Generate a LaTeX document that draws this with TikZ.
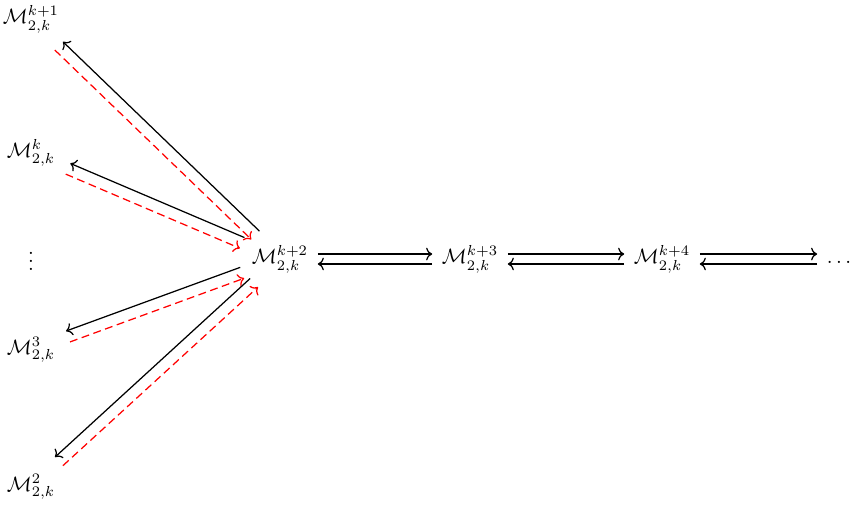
\documentclass[tikz,border=0pt]{standalone}
\usepackage{amsmath}
\usepackage{amssymb}
\usepackage{tikz}
\usetikzlibrary{arrows.meta}
\newcommand{\Mset}[1]{\mathcal{M}_{2,k}^{#1}}
\tikzset{
  obj/.style={inner sep=4.5pt},
  side/.style={inner sep=6pt},
  fwd/.style={->, semithick},
  back/.style={->, semithick, red, dash pattern=on 3.8pt off 2.2pt},
}

\begin{document}
\begin{tikzpicture}[x=0.01695cm, y=-0.01695cm]
  \useasboundingbox (0,0) rectangle (853,510);

  % left column
  \node[side] (k1) at (31,19) {$\Mset{k+1}$};
  \node[side] (k0) at (31,153) {$\Mset{k}$};
  \node[side] (vd) at (31,255) {$\vdots$};
  \node[side] (m3) at (31,350) {$\Mset{3}$};
  \node[side] (m2) at (31,487) {$\Mset{2}$};

  % chain to the right
  \node[obj] (c)  at (280,259) {$\Mset{k+2}$};
  \node[obj] (c3) at (470,259) {$\Mset{k+3}$};
  \node[obj] (c4) at (662,259) {$\Mset{k+4}$};
  \node[obj, text height=6pt, text depth=1.2pt] (dots) at (839,259) {$\ldots$};

  % fan to the left column
  \draw[fwd, transform canvas={shift={(1.95pt,2.01pt)}}] (c) -- (k1);
  \draw[back, transform canvas={shift={(-1.95pt,-2.01pt)}}] (k1) -- (c);
  \draw[fwd, transform canvas={shift={(1.10pt,2.58pt)}}] (c) -- (k0);
  \draw[back, transform canvas={shift={(-1.10pt,-2.58pt)}}] (k0) -- (c);
  \draw[fwd, transform canvas={shift={(-0.96pt,2.63pt)}}] (c) -- (m3);
  \draw[back, transform canvas={shift={(0.96pt,-2.63pt)}}] (m3) -- (c);
  \draw[fwd, transform canvas={shift={(-1.89pt,2.07pt)}}] (c) -- (m2);
  \draw[back, transform canvas={shift={(1.89pt,-2.07pt)}}] (m2) -- (c);

  % pairs along the chain
  \draw[fwd, transform canvas={yshift=2.4pt}] (c) -- (c3);
  \draw[fwd, transform canvas={yshift=-2.4pt}] (c3) -- (c);
  \draw[fwd, transform canvas={yshift=2.4pt}] (c3) -- (c4);
  \draw[fwd, transform canvas={yshift=-2.4pt}] (c4) -- (c3);
  \draw[fwd, transform canvas={yshift=2.4pt}] (c4) -- (dots);
  \draw[fwd, transform canvas={yshift=-2.4pt}] (dots) -- (c4);
\end{tikzpicture}
\end{document}
